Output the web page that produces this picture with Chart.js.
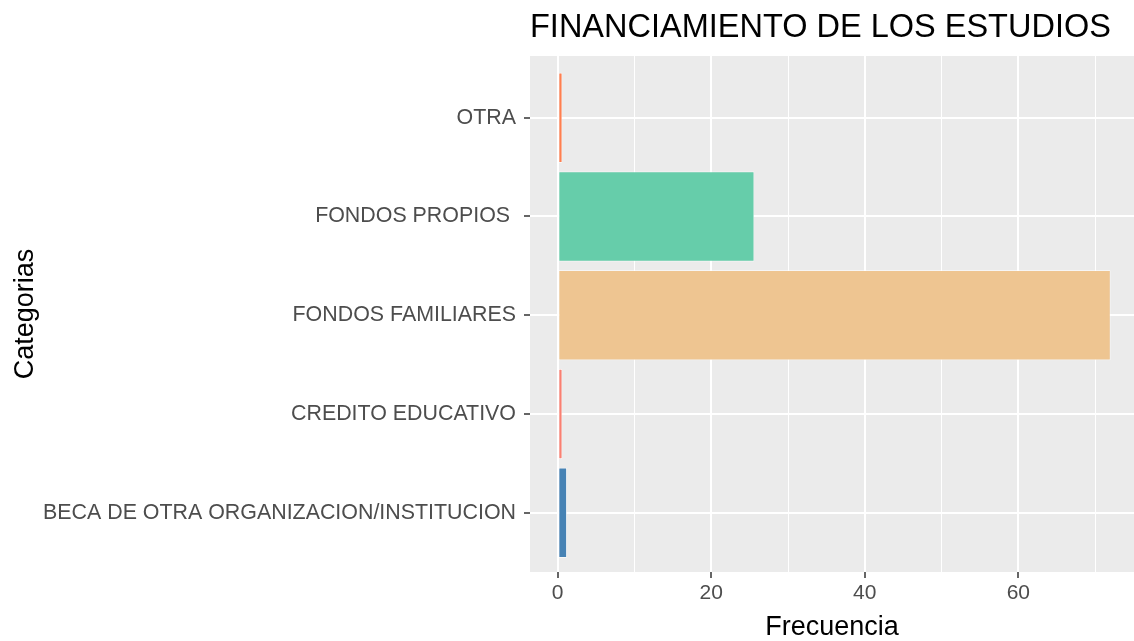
<!DOCTYPE html>
<html>
<head>
<meta charset="utf-8">
<script src="https://cdn.jsdelivr.net/npm/chart.js@4"></script>
<style>
  body { margin: 0; background: #fff; }
  canvas { display: block; }
</style>
</head>
<body>
<canvas id="myChart" width="1134" height="641"></canvas>
<script>
// categories listed bottom to top, as in the plot
var categorias = [
  "BECA DE OTRA ORGANIZACION/INSTITUCION",
  "CREDITO EDUCATIVO",
  "FONDOS FAMILIARES",
  "FONDOS PROPIOS ",
  "OTRA"
];
var frecuencias = [1.2, 0.6, 72, 25.6, 0.6];
var barColors = ["#4682B4", "#FA8072", "#EEC591", "#66CDAA", "#FF7F50"];
var xTicks = [0, 20, 40, 60];

var puntos = categorias.map(function (c, i) {
  return { x: frecuencias[i], y: i + 1 };
});

var panelBg = {
  id: "panelBg",
  beforeDraw: function (chart) {
    var a = chart.chartArea, ctx = chart.ctx;
    ctx.save();
    ctx.fillStyle = "#EBEBEB";
    ctx.fillRect(a.left, a.top, a.right - a.left, a.bottom - a.top);
    ctx.restore();
  },
  afterDraw: function (chart) {
    var ctx = chart.ctx;
    ctx.save();
    ctx.fillStyle = "#000";
    ctx.font = "32.5px 'Liberation Sans', Arial, sans-serif";
    ctx.textBaseline = "middle";
    ctx.textAlign = "left";
    ctx.fillText("FINANCIAMIENTO DE LOS ESTUDIOS", chart.chartArea.left, 28);
    ctx.restore();
  }
};

new Chart("myChart", {
  type: "bar",
  data: {
    datasets: [
      {
        data: puntos,
        backgroundColor: barColors,
        borderColor: "#ffffff",
        borderWidth: 0.7,
        borderSkipped: false,
        categoryPercentage: 1,
        barPercentage: 0.91
      }
    ]
  },
  plugins: [panelBg],
  options: {
    responsive: false,
    animation: false,
    indexAxis: "y",
    layout: { padding: { top: 56, right: 0, bottom: 0, left: 0 } },
    plugins: {
      legend: { display: false },
      tooltip: { enabled: false },
      title: { display: false }
    },
    scales: {
      x: {
        type: "linear",
        min: -3.6,
        max: 75.06,
        afterFit: function (s) { s.height = 69; },
        border: { display: false },
        grid: {
          color: "#ffffff",
          lineWidth: function (c) { return c.tick && xTicks.indexOf(c.tick.value) >= 0 ? 2 : 1; },
          tickColor: function (c) { return c.tick && xTicks.indexOf(c.tick.value) >= 0 ? "#333333" : "rgba(0,0,0,0)"; },
          tickWidth: 1.5,
          tickLength: 6
        },
        ticks: {
          stepSize: 10,
          includeBounds: false,
          maxRotation: 0,
          autoSkip: false,
          padding: 3,
          color: "#4D4D4D",
          font: { family: "'Liberation Sans', Arial, sans-serif", size: 21 },
          callback: function (v) { return xTicks.indexOf(v) >= 0 ? String(v) : ""; }
        },
        title: {
          display: true,
          text: "Frecuencia",
          color: "#000",
          padding: { top: 0, bottom: 0 },
          font: { family: "'Liberation Sans', Arial, sans-serif", size: 27, lineHeight: 1 }
        }
      },
      y: {
        type: "linear",
        min: 0.4,
        max: 5.625,
        offset: false,
        afterFit: function (s) { s.width = 530; },
        border: { display: false },
        grid: {
          offset: false,
          color: "#ffffff",
          lineWidth: 2,
          tickColor: "#333333",
          tickWidth: 1.5,
          tickLength: 6
        },
        ticks: {
          stepSize: 1,
          includeBounds: false,
          autoSkip: false,
          padding: 8,
          color: "#4D4D4D",
          font: { family: "'Liberation Sans', Arial, sans-serif", size: 21.4 },
          callback: function (v) { return categorias[v - 1] || ""; }
        },
        title: {
          display: true,
          text: "Categorias",
          color: "#000",
          padding: { top: 12, bottom: 0 },
          font: { family: "'Liberation Sans', Arial, sans-serif", size: 27, lineHeight: 1 }
        }
      }
    }
  }
});
</script>
</body>
</html>
